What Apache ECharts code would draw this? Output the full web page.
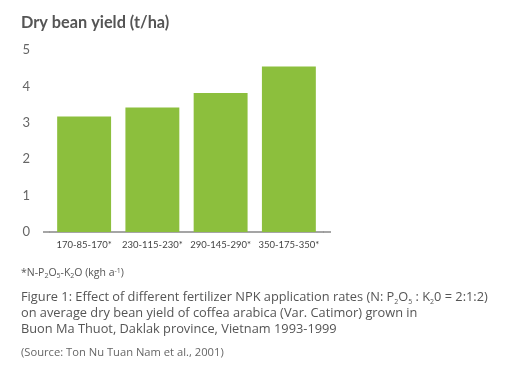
<!DOCTYPE html>
<html><head><meta charset="utf-8">
<script src="https://cdn.jsdelivr.net/npm/echarts@6/dist/echarts.min.js"></script>
<style>html,body{margin:0;padding:0;background:#fff}#c{width:509px;height:385px}</style>
</head><body><div id="c"></div>
<script>
const categories = ['170-85-170*', '230-115-230*', '290-145-290*', '350-175-350*'];
const yieldValues = [3.17, 3.42, 3.82, 4.55];
const yTicks = [0, 1, 2, 3, 4, 5];

const FONT = 'Lato, "Open Sans", sans-serif';
const CAP = '"Open Sans", Lato, sans-serif';
const sub = { fontSize: 7, fontFamily: CAP, fill: '#555', verticalAlign: 'bottom', padding: [5, 0, 0, 0] };
const sup = { fontSize: 7, fontFamily: CAP, fill: '#555', verticalAlign: 'top', padding: [0, 0, 5, 0] };
const chart = echarts.init(document.getElementById('c'), null, { renderer: 'canvas' });
chart.setOption({
  animation: false,
  backgroundColor: '#fff',
  title: {
    text: 'Dry bean yield (t/ha)', left: 21, top: 15, padding: 0,
    textStyle: { fontFamily: FONT, fontSize: 16.3, fontWeight: 'bold', color: '#555' }
  },
  grid: { left: 50, right: 186, top: 50, bottom: 153 },
  xAxis: {
    type: 'category', data: categories,
    axisLine: { lineStyle: { color: '#888', width: 1.5 } },
    axisTick: { show: false },
    axisLabel: { color: '#444', fontFamily: FONT, fontSize: 9.5, margin: 8, interval: 0 }
  },
  yAxis: {
    type: 'value', min: yTicks[0], max: yTicks[yTicks.length - 1], interval: 1,
    splitLine: { show: false },
    axisLine: { show: false }, axisTick: { show: false },
    axisLabel: { color: '#666', fontFamily: FONT, fontSize: 13, margin: 20,
      formatter: v => yTicks.includes(v) ? String(v) : '' }
  },
  series: [{
    type: 'bar', data: yieldValues, barCategoryGap: '21%',
    itemStyle: { color: '#8cbf3d' }
  }],
  graphic: [
    { type: 'line', shape: { x1: 43, y1: 232, x2: 50, y2: 232 }, style: { stroke: '#888', lineWidth: 1.5 } },
    { type: 'line', shape: { x1: 323, y1: 232, x2: 331, y2: 232 }, style: { stroke: '#888', lineWidth: 1.5 } },
    { type: 'text', left: 21, top: 267, style: {
        text: '*N-P{s|2}O{s|5}-K{s|2}O (kgh a{t|-1})',
        fontFamily: CAP, fontSize: 10.5, fill: '#555',
        rich: { s: sub, t: sup } } },
    { type: 'text', left: 21, top: 289, style: {
        text: 'Figure 1: Effect of different fertilizer NPK application rates (N: P{s|2}O{s|5} : K{s|2}0 = 2:1:2)\non average dry bean yield of coffea arabica (Var. Catimor) grown in\nBuon Ma Thuot, Daklak province, Vietnam 1993-1999',
        fontFamily: CAP, fontSize: 12.8, fill: '#555', lineHeight: 16,
        rich: { s: Object.assign({}, sub, { lineHeight: 16 }) } } },
    { type: 'text', left: 21, top: 347, style: {
        text: '(Source: Ton Nu Tuan Nam et al., 2001)',
        fontFamily: CAP, fontSize: 11.2, fill: '#666' } }
  ]
});
</script></body></html>
